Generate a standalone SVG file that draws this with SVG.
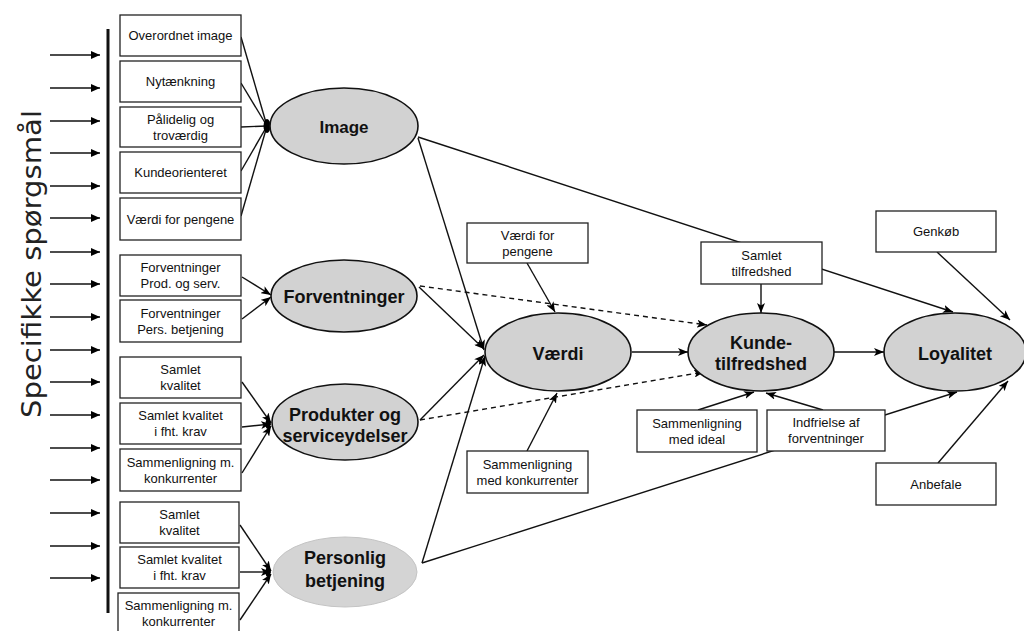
<svg xmlns="http://www.w3.org/2000/svg" width="1024" height="631" viewBox="0 0 1024 631">
<defs>
<marker id="ah" markerUnits="userSpaceOnUse" markerWidth="10" markerHeight="8" refX="10" refY="4" orient="auto"><path d="M0,0 L10,4 L0,8 L2.5,4 z" fill="#000"/></marker>
<marker id="ahs" markerUnits="userSpaceOnUse" markerWidth="9" markerHeight="8" refX="9" refY="4" orient="auto"><path d="M0,0 L9,4 L0,8 z" fill="#000"/></marker>
</defs>
<style>
.box{fill:#fff;stroke:#222;stroke-width:1.3}
.t{font-family:"Liberation Sans",Arial,sans-serif;font-size:13px;fill:#111;text-anchor:middle}
.et{font-family:"Liberation Sans",Arial,sans-serif;font-size:18px;font-weight:bold;fill:#111;text-anchor:middle}
.ell{fill:#d2d2d2;stroke:#111;stroke-width:1.6}
.ln{stroke:#111;stroke-width:1.4;fill:none}
.ar{stroke:#111;stroke-width:1.4;fill:none;marker-end:url(#ah)}
.da{stroke:#111;stroke-width:1.4;fill:none;stroke-dasharray:5,4;marker-end:url(#ah)}
.ia{stroke:#111;stroke-width:1.4;fill:none;marker-end:url(#ahs)}
</style>
<rect width="1024" height="631" fill="#fff"/>

<g id="sidelabel">
<text transform="translate(41,264) rotate(-90)" font-family="DejaVu Sans, sans-serif" font-size="26" fill="#222" text-anchor="middle" textLength="308" lengthAdjust="spacingAndGlyphs">Specifikke spørgsmål</text>
<line x1="108" y1="29" x2="108" y2="613" stroke="#111" stroke-width="3"/>
</g>

<g id="input-arrows">
<line class="ia" x1="50" y1="55" x2="100" y2="55"/>
<line class="ia" x1="50" y1="88" x2="100" y2="88"/>
<line class="ia" x1="50" y1="121" x2="100" y2="121"/>
<line class="ia" x1="50" y1="153" x2="100" y2="153"/>
<line class="ia" x1="50" y1="186" x2="100" y2="186"/>
<line class="ia" x1="50" y1="218" x2="100" y2="218"/>
<line class="ia" x1="50" y1="252" x2="100" y2="252"/>
<line class="ia" x1="50" y1="284" x2="100" y2="284"/>
<line class="ia" x1="50" y1="317" x2="100" y2="317"/>
<line class="ia" x1="50" y1="350" x2="100" y2="350"/>
<line class="ia" x1="50" y1="382" x2="100" y2="382"/>
<line class="ia" x1="50" y1="415" x2="100" y2="415"/>
<line class="ia" x1="50" y1="448" x2="100" y2="448"/>
<line class="ia" x1="50" y1="480" x2="100" y2="480"/>
<line class="ia" x1="50" y1="513" x2="100" y2="513"/>
<line class="ia" x1="50" y1="546" x2="100" y2="546"/>
<line class="ia" x1="50" y1="578" x2="100" y2="578"/>
</g>

<g id="connectors">
<line class="ln" x1="241" y1="37" x2="267" y2="126"/>
<line class="ln" x1="241" y1="83" x2="267" y2="126"/>
<line class="ln" x1="241" y1="127" x2="267" y2="126"/>
<line class="ln" x1="241" y1="171" x2="267" y2="126"/>
<line class="ln" x1="241" y1="216" x2="267" y2="126"/>
<ellipse cx="267" cy="126" rx="3.5" ry="7" fill="#000"/>
<line class="ar" x1="242" y1="277" x2="271" y2="295"/>
<line class="ar" x1="242" y1="319" x2="271" y2="297"/>
<line class="ar" x1="242" y1="382" x2="271" y2="423"/>
<line class="ar" x1="242" y1="427" x2="271" y2="424"/>
<line class="ar" x1="242" y1="473" x2="271" y2="426"/>
<ellipse cx="268" cy="424" rx="2.5" ry="5" fill="#000"/>
<line class="ar" x1="240" y1="525" x2="271" y2="571"/>
<line class="ar" x1="240" y1="572" x2="271" y2="572"/>
<line class="ar" x1="240" y1="620" x2="271" y2="574"/>
<ellipse cx="268" cy="572" rx="2.5" ry="5" fill="#000"/>
<line class="ar" x1="418" y1="138" x2="484" y2="350"/>
<line class="ar" x1="419" y1="287" x2="484" y2="349"/>
<line class="ar" x1="420" y1="420" x2="484" y2="355"/>
<line class="ar" x1="422" y1="563" x2="485" y2="356"/>
<line class="ar" x1="527" y1="263" x2="555" y2="312"/>
<line class="ar" x1="527" y1="451" x2="557" y2="393"/>
<line class="da" x1="420" y1="286" x2="707" y2="325"/>
<line class="da" x1="420" y1="420" x2="704" y2="372"/>
<line class="ar" x1="418" y1="137" x2="953" y2="312"/>
<line class="ar" x1="422" y1="563" x2="957" y2="392"/>
<line class="ar" x1="632" y1="352" x2="688" y2="352"/>
<line class="ar" x1="834" y1="352" x2="884" y2="352"/>
<line class="ar" x1="761" y1="284" x2="761" y2="313"/>
<line class="ar" x1="698" y1="410" x2="754" y2="392"/>
<line class="ar" x1="823" y1="410" x2="766" y2="393"/>
<line class="ar" x1="937" y1="252" x2="1010" y2="320"/>
<line class="ar" x1="938" y1="463" x2="1008" y2="381"/>
</g>

<g id="n-overordnet"><rect class="box" x="120" y="15" width="121" height="41"/><text class="t" x="180.5" y="40">Overordnet image</text></g>
<g id="n-nytaenkning"><rect class="box" x="120" y="61" width="121" height="41"/><text class="t" x="180.5" y="86">Nytænkning</text></g>
<g id="n-palidelig"><rect class="box" x="120" y="107" width="121" height="40"/><text class="t" x="180.5" y="124">Pålidelig og</text><text class="t" x="180.5" y="140">troværdig</text></g>
<g id="n-kundeorienteret"><rect class="box" x="120" y="152" width="121" height="41"/><text class="t" x="180.5" y="177">Kundeorienteret</text></g>
<g id="n-vaerdi-pengene-1"><rect class="box" x="120" y="198" width="121" height="42"/><text class="t" x="180.5" y="223.5">Værdi for pengene</text></g>
<g id="n-forv-prod"><rect class="box" x="120" y="255" width="121" height="41"/><text class="t" x="180.5" y="272">Forventninger</text><text class="t" x="180.5" y="288">Prod. og serv.</text></g>
<g id="n-forv-pers"><rect class="box" x="120" y="300" width="121" height="42"/><text class="t" x="180.5" y="318">Forventninger</text><text class="t" x="180.5" y="334">Pers. betjening</text></g>
<g id="n-samlet-kval-1"><rect class="box" x="120" y="357" width="121" height="41"/><text class="t" x="180.5" y="374">Samlet</text><text class="t" x="180.5" y="390">kvalitet</text></g>
<g id="n-samlet-krav-1"><rect class="box" x="120" y="403" width="121" height="41"/><text class="t" x="180.5" y="420">Samlet kvalitet</text><text class="t" x="180.5" y="436">i fht. krav</text></g>
<g id="n-samm-konk-1"><rect class="box" x="120" y="449" width="121" height="42"/><text class="t" x="180.5" y="467">Sammenligning m.</text><text class="t" x="180.5" y="483">konkurrenter</text></g>
<g id="n-samlet-kval-2"><rect class="box" x="120" y="502" width="119" height="41"/><text class="t" x="179.5" y="519">Samlet</text><text class="t" x="179.5" y="535">kvalitet</text></g>
<g id="n-samlet-krav-2"><rect class="box" x="120" y="547" width="119" height="41"/><text class="t" x="179.5" y="564">Samlet kvalitet</text><text class="t" x="179.5" y="580">i fht. krav</text></g>
<g id="n-samm-konk-2"><rect class="box" x="118" y="593" width="121" height="45"/><text class="t" x="178.5" y="610">Sammenligning m.</text><text class="t" x="178.5" y="626">konkurrenter</text></g>

<g id="n-image"><ellipse class="ell" cx="344" cy="126" rx="74" ry="38"/><text class="et" x="344" y="133" style="font-size:17px">Image</text></g>
<g id="n-forventninger"><ellipse class="ell" cx="344" cy="296" rx="73" ry="36"/><text class="et" x="344" y="303">Forventninger</text></g>
<g id="n-produkter"><ellipse class="ell" cx="345" cy="422" rx="73" ry="38"/><text class="et" x="345" y="421">Produkter og</text><text class="et" x="345" y="442">serviceydelser</text></g>
<g id="n-personlig"><ellipse cx="345" cy="572" rx="72" ry="35" fill="#d4d4d4" stroke="#c4c4c4" stroke-width="1"/><text class="et" x="345" y="564">Personlig</text><text class="et" x="345" y="587">betjening</text></g>
<g id="n-vaerdi"><ellipse class="ell" cx="558" cy="352" rx="73" ry="39"/><text class="et" x="558" y="360">Værdi</text></g>
<g id="n-kunde"><ellipse class="ell" cx="761" cy="352" rx="73" ry="39"/><text class="et" x="761" y="349">Kunde-</text><text class="et" x="761" y="370">tilfredshed</text></g>
<g id="n-loyalitet"><ellipse class="ell" cx="955" cy="352" rx="71" ry="39"/><text class="et" x="955" y="360">Loyalitet</text></g>

<g id="n-vaerdi-pengene-2"><rect class="box" x="467" y="223" width="121" height="40"/><text class="t" x="527.5" y="240">Værdi for</text><text class="t" x="527.5" y="256">pengene</text></g>
<g id="n-samm-konk-mid"><rect class="box" x="467" y="451" width="121" height="42"/><text class="t" x="527.5" y="469">Sammenligning</text><text class="t" x="527.5" y="485">med konkurrenter</text></g>
<g id="n-samlet-tilfredshed"><rect class="box" x="701" y="242" width="121" height="42"/><text class="t" x="761.5" y="260">Samlet</text><text class="t" x="761.5" y="276">tilfredshed</text></g>
<g id="n-ideal"><rect class="box" x="637" y="410" width="120" height="42"/><text class="t" x="697" y="428">Sammenligning</text><text class="t" x="697" y="444">med ideal</text></g>
<g id="n-indfrielse"><rect class="box" x="767" y="410" width="118" height="41"/><text class="t" x="826" y="427">Indfrielse af</text><text class="t" x="826" y="443">forventninger</text></g>
<g id="n-genkob"><rect class="box" x="876" y="211" width="120" height="41"/><text class="t" x="936" y="236">Genkøb</text></g>
<g id="n-anbefale"><rect class="box" x="876" y="463" width="120" height="42"/><text class="t" x="936" y="489">Anbefale</text></g>
</svg>
